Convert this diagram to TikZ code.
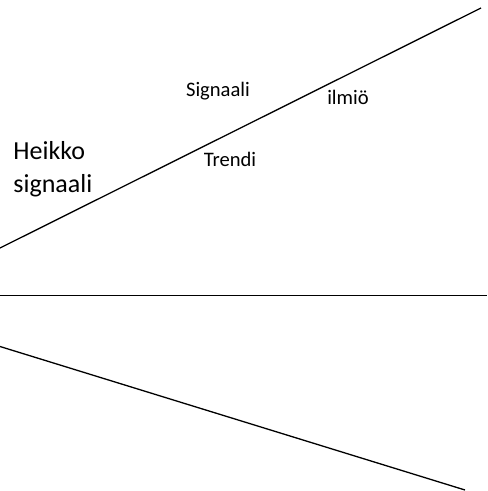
\documentclass[tikz,border=0pt]{standalone}
\usepackage{fontspec}
\setmainfont{Carlito}
\begin{document}
\begin{tikzpicture}[x=0.5pt, y=-0.5pt, label/.style = {inner sep=0pt, font=\fontsize{10.3pt}{12pt}\selectfont}, biglabel/.style = {inner sep=0pt, align=left, font=\fontsize{13pt}{16.5pt}\selectfont}, edge/.style = {line width=0.65pt}]
  \useasboundingbox (0, 0) rectangle (487, 491);

  % End points.
  \coordinate (RiseStart) at (0, 248);
  \coordinate (RiseEnd) at (481, 8);
  \coordinate (LevelStart) at (0, 295.5);
  \coordinate (LevelEnd) at (487, 295.5);
  \coordinate (FallStart) at (0, 346.5);
  \coordinate (FallEnd) at (465, 490);

  % Labels.
  \node at (218, 91) [label, name=Signaali] {Signaali};
  \node at (348, 97) [label, name=Ilmio] {ilmiö};
  \node at (230, 159) [label, name=Trendi] {Trendi};
  \node at (13, 169) [biglabel, anchor=west, name=HeikkoSignaali] {Heikko\\signaali};

  % Lines.
  \draw [edge] (RiseStart) -- (RiseEnd);
  \draw [edge] (LevelStart) -- (LevelEnd);
  \draw [edge] (FallStart) -- (FallEnd);
\end{tikzpicture}
\end{document}
